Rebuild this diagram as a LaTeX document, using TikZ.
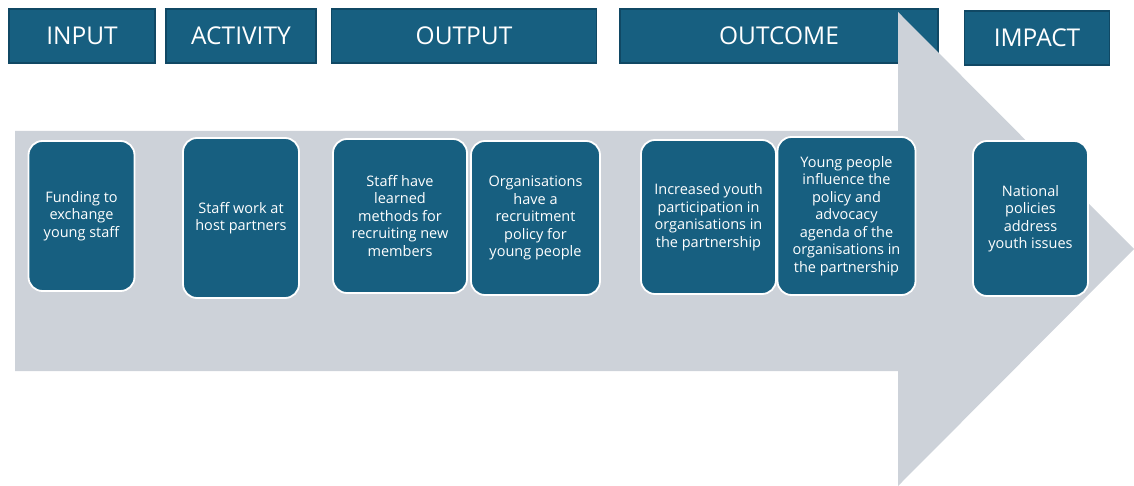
\documentclass[tikz,border=0pt]{standalone}
\usepackage{fontspec}
\setmainfont{Open Sans}
\usetikzlibrary{positioning}
\definecolor{stageblue}{RGB}{23,95,128}
\definecolor{stageedge}{RGB}{16,72,100}
\definecolor{arrowgrey}{RGB}{205,210,217}
\begin{document}
\begin{tikzpicture}[
    x=1pt, y=-1pt,
    stage/.style={rectangle, draw=stageedge, line width=1.5pt, fill=stageblue, text=white, minimum height=54pt, font=\fontsize{24.5}{29}\selectfont},
    block/.style={rectangle, draw=white, line width=1.8pt, fill=stageblue, text=white, rounded corners=14pt, align=center, font=\fontsize{14.5}{17.5}\selectfont}
]
    \useasboundingbox (0,0) rectangle (1134,486);

    \node[stage, minimum width=146pt] (input) at (82,36) {INPUT};
    \node[stage, minimum width=150pt, right of=input, node distance=159pt] (activity) {ACTIVITY};
    \node[stage, minimum width=265pt, right of=activity, node distance=223pt] (output) {OUTPUT};
    \node[stage, minimum width=318pt, right of=output, node distance=315pt] (outcome) {OUTCOME};
    \node[stage, minimum width=145pt, right of=outcome, node distance=258pt, yshift=-2pt] (impact) {IMPACT};

    \fill[arrowgrey] (15,131) -- (898,131) -- (898,12) -- (1134,249) -- (898,486) -- (898,371) -- (15,371) -- cycle;

    \node[block, minimum width=106pt, minimum height=150pt] (funding) at (81.5,216) {Funding to\\exchange\\young staff};
    \node[block, minimum width=116pt, minimum height=160pt] (work) at (241,218) {Staff work at\\host partners};
    \node[block, minimum width=134pt, minimum height=154pt, right of=work, node distance=159pt, yshift=2pt] (methods) {Staff have\\learned\\methods for\\recruiting new\\members};
    \node[block, minimum width=129pt, minimum height=154pt, right of=methods, node distance=135.5pt, yshift=-2pt] (policy) {Organisations\\have a\\recruitment\\policy for\\young people};
    \node[block, minimum width=135pt, minimum height=154pt, right of=policy, node distance=173pt, yshift=1pt] (participation) {Increased youth\\participation in\\organisations in\\the partnership};
    \node[block, minimum width=138pt, minimum height=158pt, right of=participation, node distance=138pt, yshift=1pt] (agenda) {Young people\\influence the\\policy and\\advocacy\\agenda of the\\organisations in\\the partnership};
    \node[block, minimum width=115pt, minimum height=155pt, right of=agenda, node distance=184pt, yshift=-2.5pt] (national) {National\\policies\\address\\youth issues};
\end{tikzpicture}
\end{document}
